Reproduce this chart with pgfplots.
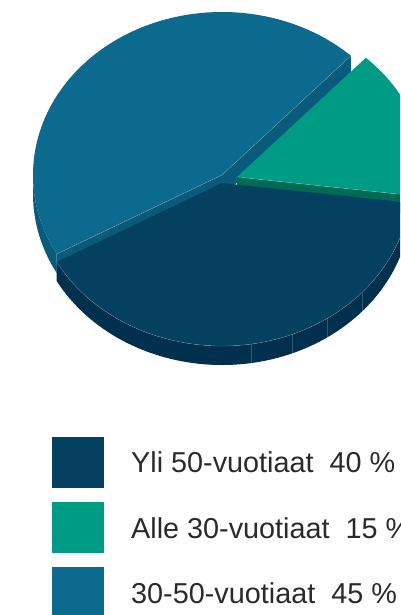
\documentclass[border=0pt]{standalone}
\usepackage{pgfplots}
\pgfplotsset{compat=1.18}
\usepackage{fontspec}
\setmainfont{Liberation Sans}
\definecolor{bluetop}{HTML}{0D6A8F}
\definecolor{blueside}{HTML}{0A5A7B}
\definecolor{darktop}{HTML}{04405F}
\definecolor{darkside}{HTML}{00304E}
\definecolor{tealtop}{HTML}{009B84}
\definecolor{tealside}{HTML}{006B55}
\definecolor{txt}{HTML}{2A2A2A}
\tikzset{er/.style={x radius=189pt,y radius=163pt}}
\begin{document}
\begin{tikzpicture}
% data (percent)
\def\valYli{40}
\def\valAlle{15}
\def\valMid{45}
\pgfmathsetmacro\aS{-151}
\pgfmathsetmacro\aA{\aS+3.6*\valYli}
\pgfmathsetmacro\aB{\aA+3.6*\valAlle}
\pgfmathsetmacro\aC{\aB+3.6*\valMid}
\begin{axis}[width=400pt,height=615pt,scale only axis,hide axis,
  xmin=0,xmax=400,ymin=0,ymax=615,enlargelimits=false,clip=true]
% ---- 30-50 (blue) slice, centre (222,440)
\fill[blueside] (axis cs:222,440) -- ++(\aB:189pt and 163pt) -- ++(0,-22pt) -- ([yshift=-22pt]axis cs:222,440) -- cycle;
\fill[blueside] (axis cs:222,440) -- ++(\aC:189pt and 163pt) -- ++(0,-22pt) -- ([yshift=-22pt]axis cs:222,440) -- cycle;
\fill[blueside] (axis cs:222,440) ++(180:189pt and 163pt) arc[start angle=180,end angle=\aC,er] -- ++(0,-22pt) arc[start angle=\aC,end angle=180,er] -- cycle;
\fill[bluetop] (axis cs:222,440) -- ++(\aB:189pt and 163pt) arc[start angle=\aB,end angle=\aC,er] -- cycle;
\draw[white,opacity=0.35,line width=0.3pt] (axis cs:222,440) -- ++(\aB:189pt and 163pt);
\draw[white,opacity=0.35,line width=0.3pt] (axis cs:222,440) -- ++(\aC:189pt and 163pt);
% ---- Alle 30 (teal) slice, centre (237,438)
\fill[tealside] (axis cs:237,438) -- ++(\aA:189pt and 163pt) -- ++(0,-22pt) -- ([yshift=-22pt]axis cs:237,438) -- cycle;
\fill[tealside] (axis cs:237,438) ++(\aA:189pt and 163pt) arc[start angle=\aA,end angle=0,er] -- ++(0,-22pt) arc[start angle=0,end angle=\aA,er] -- cycle;
\fill[tealtop] (axis cs:237,438) -- ++(\aA:189pt and 163pt) arc[start angle=\aA,end angle=\aB,er] -- cycle;
\draw[white,opacity=0.35,line width=0.3pt] (axis cs:237,438) -- ++(\aA:189pt and 163pt);
% ---- Yli 50 (dark) slice, centre (222,432)
\fill[darkside] (axis cs:222,432) ++(\aS:189pt and 163pt) arc[start angle=\aS,end angle=\aA,er] -- ++(0,-22pt) arc[start angle=\aA,end angle=\aS,er] -- cycle;
\fill[darktop] (axis cs:222,432) -- ++(\aS:189pt and 163pt) arc[start angle=\aS,end angle=\aA,er] -- cycle;
\draw[white,opacity=0.35,line width=0.3pt] (axis cs:222,432) ++(\aS:189pt and 163pt) arc[start angle=\aS,end angle=\aA,er];
\draw[white,opacity=0.2,line width=0.3pt] (axis cs:251,271) -- (axis cs:251,249);
\draw[white,opacity=0.2,line width=0.3pt] (axis cs:292,280.6) -- (axis cs:292,258.6);
\draw[white,opacity=0.2,line width=0.3pt] (axis cs:327,296.5) -- (axis cs:327,274.5);
\draw[white,opacity=0.2,line width=0.3pt] (axis cs:362,322.5) -- (axis cs:362,300.5);
% ---- legend
\addplot[draw=none,fill=darktop,mark=none] coordinates {(52,127) (104,127) (104,178) (52,178)} -- cycle;
\addplot[draw=none,fill=tealtop,mark=none] coordinates {(52,62) (104,62) (104,113) (52,113)} -- cycle;
\addplot[draw=none,fill=bluetop,mark=none] coordinates {(52,-3) (104,-3) (104,48) (52,48)} -- cycle;
\node[anchor=base west,inner sep=0pt,text=txt,font=\fontsize{28.8}{34}\selectfont] at (axis cs:131,142) {Yli 50-vuotiaat\ \ 40 \%};
\node[anchor=base west,inner sep=0pt,text=txt,font=\fontsize{28.8}{34}\selectfont] at (axis cs:131,76) {Alle 30-vuotiaat\ \ 15 \%};
\node[anchor=base west,inner sep=0pt,text=txt,font=\fontsize{28.8}{34}\selectfont] at (axis cs:131,12) {30-50-vuotiaat\ \ 45 \%};
\end{axis}
\pgfresetboundingbox
\path (current axis.south west) rectangle (current axis.north east);
\end{tikzpicture}
\end{document}
